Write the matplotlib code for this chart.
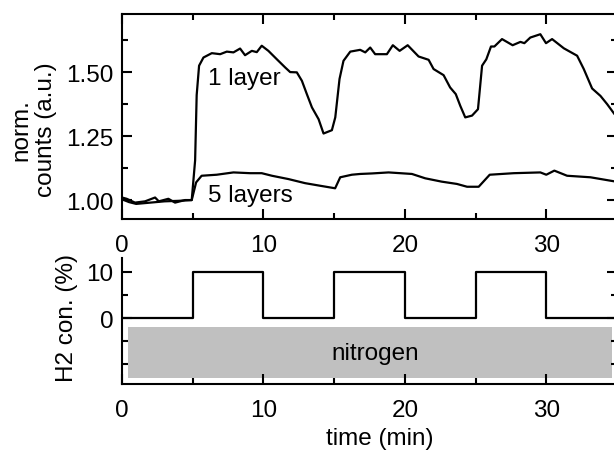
import matplotlib
matplotlib.use('Agg')
import matplotlib.pyplot as plt
from matplotlib.ticker import FixedLocator, MultipleLocator, FormatStrFormatter
from matplotlib.patches import Rectangle

plt.rcParams['font.family'] = ['Liberation Sans', 'DejaVu Sans']
plt.rcParams['font.size'] = 17.5

# sensor response, 1 layer
t_1layer = [0, 0.33, 0.92, 1.63, 2.34, 2.6, 3.28, 3.75, 4.46, 4.93, 5.17, 5.28, 5.45, 5.76,
            6.35, 6.94, 7.41, 7.88, 8.35, 8.7, 9.18, 9.53, 9.88, 10.35, 10.95, 11.54, 11.89,
            12.36, 12.72, 13.07, 13.43, 13.9, 14.25, 14.84, 15.08, 15.38, 15.66, 16.14, 16.84,
            17.2, 17.55, 17.9, 18.73, 19.15, 19.63, 20.2, 20.97, 21.68, 22.03, 22.74, 23.2,
            23.6, 23.92, 24.27, 24.75, 25.17, 25.46, 25.76, 26.09, 26.33, 26.87, 27.62, 28.17,
            28.45, 28.87, 29.58, 29.98, 30.41, 31.24, 32.18, 32.65, 33.24, 33.83, 34.3, 34.82, 35.0]
v_1layer = [1.01, 1.005, 0.99, 0.995, 1.01, 0.995, 1.005, 0.99, 1.0, 1.0, 1.155, 1.41, 1.525, 1.557,
            1.574, 1.57, 1.58, 1.577, 1.592, 1.566, 1.583, 1.578, 1.603, 1.583, 1.55, 1.518, 1.50,
            1.499, 1.466, 1.414, 1.362, 1.316, 1.26, 1.273, 1.323, 1.473, 1.544, 1.58, 1.587,
            1.577, 1.596, 1.57, 1.57, 1.605, 1.583, 1.605, 1.561, 1.548, 1.512, 1.488, 1.44,
            1.414, 1.368, 1.323, 1.33, 1.355, 1.525, 1.55, 1.6, 1.6, 1.629, 1.605, 1.618,
            1.613, 1.635, 1.648, 1.613, 1.629, 1.593, 1.564, 1.512, 1.436, 1.407, 1.375, 1.336, 1.33]

# sensor response, 5 layers
t_5layers = [0, 0.5, 1.0, 2.0, 3.0, 4.0, 4.93, 5.24, 5.63, 6.7, 7.88, 9.06, 9.88, 10.6, 11.77,
             12.95, 14.0, 15.07, 15.43, 16.25, 16.84, 17.67, 18.85, 20.5, 21.44, 22.6, 23.68,
             24.4, 25.22, 26.0, 27.7, 29.58, 30.0, 30.57, 31.47, 33.12, 34.82, 35.0]
v_5layers = [1.003, 0.992, 0.985, 0.99, 0.995, 0.997, 1.0, 1.069, 1.095, 1.099, 1.108, 1.105,
             1.105, 1.095, 1.082, 1.066, 1.056, 1.046, 1.089, 1.099, 1.102, 1.104, 1.108, 1.102,
             1.085, 1.072, 1.063, 1.052, 1.052, 1.099, 1.105, 1.108, 1.099, 1.115, 1.095, 1.089,
             1.073, 1.072]

# H2 concentration steps
t_h2 = [0, 5, 10, 15, 20, 25, 30, 35]
h2 = [0, 10, 0, 10, 0, 10, 0, 0]

# carrier gas band
n2_start, n2_end = 0.4, 34.65
n2_low, n2_high = -13, -2

fig = plt.figure(figsize=(6.14, 4.52), dpi=100)
ax1 = fig.add_axes([122/614, 1-220/452, 495/614, 205/452])
ax2 = fig.add_axes([122/614, 1-385/452, 495/614, 126/452])

lw = 1.6
for ax in (ax1, ax2):
    for s in ax.spines.values():
        s.set_linewidth(1.5)
    ax.tick_params(which='both', direction='in', width=1.5, right=True)
    ax.tick_params(which='major', length=7)
    ax.tick_params(which='minor', length=4)
    ax.set_xlim(0, 35)
    ax.xaxis.set_major_locator(MultipleLocator(10))
    ax.xaxis.set_minor_locator(MultipleLocator(5))
    ax.tick_params(axis='x', which='both', pad=11)
    ax.tick_params(axis='y', which='both', pad=6)

# top panel
ax1.plot(t_1layer, v_1layer, color='black', lw=lw)
ax1.plot(t_5layers, v_5layers, color='black', lw=lw)
ax1.set_ylim(0.926, 1.727)
ax1.yaxis.set_major_locator(FixedLocator([1.0, 1.25, 1.5]))
ax1.yaxis.set_minor_locator(FixedLocator([1.125, 1.375, 1.625]))
ax1.yaxis.set_major_formatter(FormatStrFormatter('%.2f'))
ax1.tick_params(which='both', top=True)
ax1.text(6.1, 1.453, '1 layer')
ax1.text(6.1, 0.997, '5 layers')
ax1.set_ylabel('norm.\ncounts (a.u.)', multialignment='center', linespacing=1.15)
ax1.yaxis.set_label_coords(-0.131, 0.44)

# bottom panel
ax2.plot(t_h2, h2, drawstyle='steps-post', color='black', lw=lw)
ax2.add_patch(Rectangle((n2_start, n2_low), n2_end - n2_start, n2_high - n2_low,
                        facecolor='#c0c0c0', edgecolor='none'))
ax2.text(17.9, (n2_low + n2_high) / 2, 'nitrogen', ha='center', va='center')
ax2.set_ylim(-14.3, 13.0)
ax2.yaxis.set_major_locator(FixedLocator([0, 10]))
ax2.yaxis.set_minor_locator(FixedLocator([-10, -5, 5]))
ax2.spines['top'].set_visible(False)
ax2.set_ylabel('H2 con. (%)')
ax2.yaxis.set_label_coords(-0.089, 0.535)
ax2.set_xlabel('time (min)')
ax2.xaxis.set_label_coords(0.521, -0.345)

fig.savefig('out.png', dpi=100)
